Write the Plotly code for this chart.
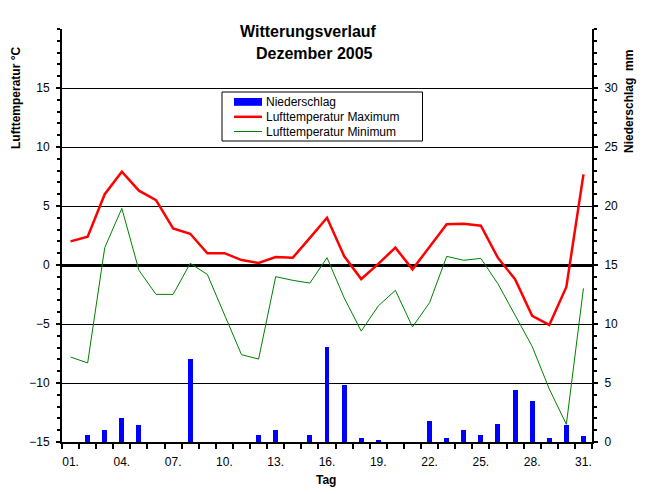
import plotly.graph_objects as go

days = list(range(1, 32))
tick_days = list(range(1, 32, 3))
tick_text = ["%02d." % d for d in tick_days]

t_max = [2.0, 2.4, 6.0, 7.9, 6.3, 5.5, 3.1, 2.65, 1.0, 1.0, 0.42, 0.17, 0.68, 0.62, 2.3,
         4.0, 0.76, -1.19, 0.1, 1.47, -0.37, 1.5, 3.45, 3.5, 3.33, 0.6, -1.2, -4.3, -5.08, -1.86, 7.68]
t_min = [-7.8, -8.3, 1.47, 4.8, -0.45, -2.49, -2.49, 0.14, -0.8, -4.2, -7.6, -7.97, -0.99, -1.3, -1.53,
         0.62, -2.77, -5.6, -3.47, -2.15, -5.25, -3.19, 0.73, 0.4, 0.56, -1.6, -4.2, -6.9, -10.5, -13.5, -1.98]
precip = [0, 0.6, 1.0, 2.03, 1.44, 0, 0, 7.03, 0, 0, 0, 0.6, 1.0, 0, 0.6,
          8.05, 4.83, 0.34, 0.17, 0, 0, 1.78, 0.34, 1.0, 0.6, 1.53, 4.4, 3.47, 0.34, 1.44, 0.5]

series_names = ["Niederschlag", "Lufttemperatur Maximum", "Lufttemperatur Minimum"]
series_colors = ["#0000FF", "#FF0000", "#008000"]

temp_ticks = [-15, -10, -5, 0, 5, 10, 15]
precip_ticks = [0, 5, 10, 15, 20, 25, 30]

FONT = "Liberation Sans, Arial, sans-serif"

fig = go.Figure()
fig.add_trace(go.Bar(x=days, y=precip, name=series_names[0],
                     marker=dict(color=series_colors[0], line=dict(width=0)),
                     width=0.29, yaxis="y", showlegend=False))
fig.add_trace(go.Scatter(x=days, y=t_max, name=series_names[1], mode="lines",
                         line=dict(color=series_colors[1], width=2.5), yaxis="y2", showlegend=False))
fig.add_trace(go.Scatter(x=days, y=t_min, name=series_names[2], mode="lines",
                         line=dict(color=series_colors[2], width=1), yaxis="y2", showlegend=False))

fig.update_layout(
    width=646, height=494,
    margin=dict(l=62, r=54, t=29, b=52),
    paper_bgcolor="white", plot_bgcolor="white",
    font=dict(family=FONT, size=12, color="black"),
    showlegend=False,
    bargap=0,
    xaxis=dict(range=[0.5, 31.5], tickmode="array", tickvals=tick_days, ticktext=tick_text,
               ticks="", showgrid=False, zeroline=False, showline=True, linecolor="black", linewidth=2,
               ticklabelstandoff=8,
               minor=dict(tickmode="array", tickvals=[d + 0.5 for d in range(0, 32)], ticks="outside",
                          ticklen=5, tickwidth=2, tickcolor="black", showgrid=False)),
    yaxis=dict(range=[0, 35], side="right", tickmode="array", tickvals=precip_ticks,
               ticks="outside", ticklen=4, tickwidth=2, tickcolor="black",
               showgrid=False, zeroline=False, showline=True, linecolor="black", linewidth=2,
               ticklabelstandoff=4,
               minor=dict(tickmode="linear", tick0=0, dtick=1, ticks="outside", ticklen=3, tickwidth=2,
                          tickcolor="black", showgrid=False)),
    yaxis2=dict(range=[-15, 20], side="left", overlaying="y", tickmode="array", tickvals=temp_ticks,
                ticks="outside", ticklen=4, tickwidth=2, tickcolor="black",
                showgrid=True, gridcolor="black", gridwidth=1,
                zeroline=True, zerolinecolor="black", zerolinewidth=3,
                showline=True, linecolor="black", linewidth=2, ticklabelstandoff=4,
                minor=dict(tickmode="linear", tick0=0, dtick=1, ticks="outside", ticklen=3, tickwidth=2,
                           tickcolor="black", showgrid=False)),
)


def px_x(p):
    return (p - 62) / 530


def px_y(p):
    return (442 - p) / 413


annos = [
    dict(text="<b>Witterungsverlauf</b>", x=px_x(308.5), y=px_y(32), size=16, angle=0),
    dict(text="<b>Dezember 2005</b>", x=px_x(314.5), y=px_y(54), size=16, angle=0),
    dict(text="<b>Lufttemperatur °C</b>", x=px_x(16), y=px_y(98), size=12, angle=-90),
    dict(text="<b>Niederschlag  mm</b>", x=px_x(629), y=px_y(102), size=12, angle=-90),
    dict(text="<b>Tag</b>", x=px_x(326), y=px_y(480), size=12, angle=0),
]
for a in annos:
    fig.add_annotation(text=a["text"], x=a["x"], y=a["y"], xref="paper", yref="paper",
                       xanchor="center", yanchor="middle", showarrow=False, textangle=a["angle"],
                       font=dict(family=FONT, size=a["size"], color="black"))

# legend box (drawn as a boxed key like the original)
fig.add_shape(type="rect", xref="paper", yref="paper",
              x0=px_x(222), x1=px_x(422.5), y0=px_y(141), y1=px_y(92),
              fillcolor="white", line=dict(color="black", width=1), layer="above")
key_rows = [101.8, 116.8, 131.5]
fig.add_shape(type="rect", xref="paper", yref="paper",
              x0=px_x(234), x1=px_x(262), y0=px_y(105.8), y1=px_y(98),
              fillcolor=series_colors[0], line=dict(width=0), layer="above")
fig.add_shape(type="line", xref="paper", yref="paper",
              x0=px_x(234), x1=px_x(262), y0=px_y(key_rows[1]), y1=px_y(key_rows[1]),
              line=dict(color=series_colors[1], width=2.5), layer="above")
fig.add_shape(type="line", xref="paper", yref="paper",
              x0=px_x(234), x1=px_x(262), y0=px_y(key_rows[2]), y1=px_y(key_rows[2]),
              line=dict(color=series_colors[2], width=1), layer="above")
for name, row in zip(series_names, key_rows):
    fig.add_annotation(text=name, x=px_x(264), y=px_y(row), xref="paper", yref="paper",
                       xanchor="left", yanchor="middle", showarrow=False,
                       font=dict(family=FONT, size=12, color="black"))

fig.write_html("out.html", config={"displayModeBar": False},
               post_script="document.body.style.margin='0';document.body.style.padding='0';"
                           "document.body.style.overflow='hidden';")
